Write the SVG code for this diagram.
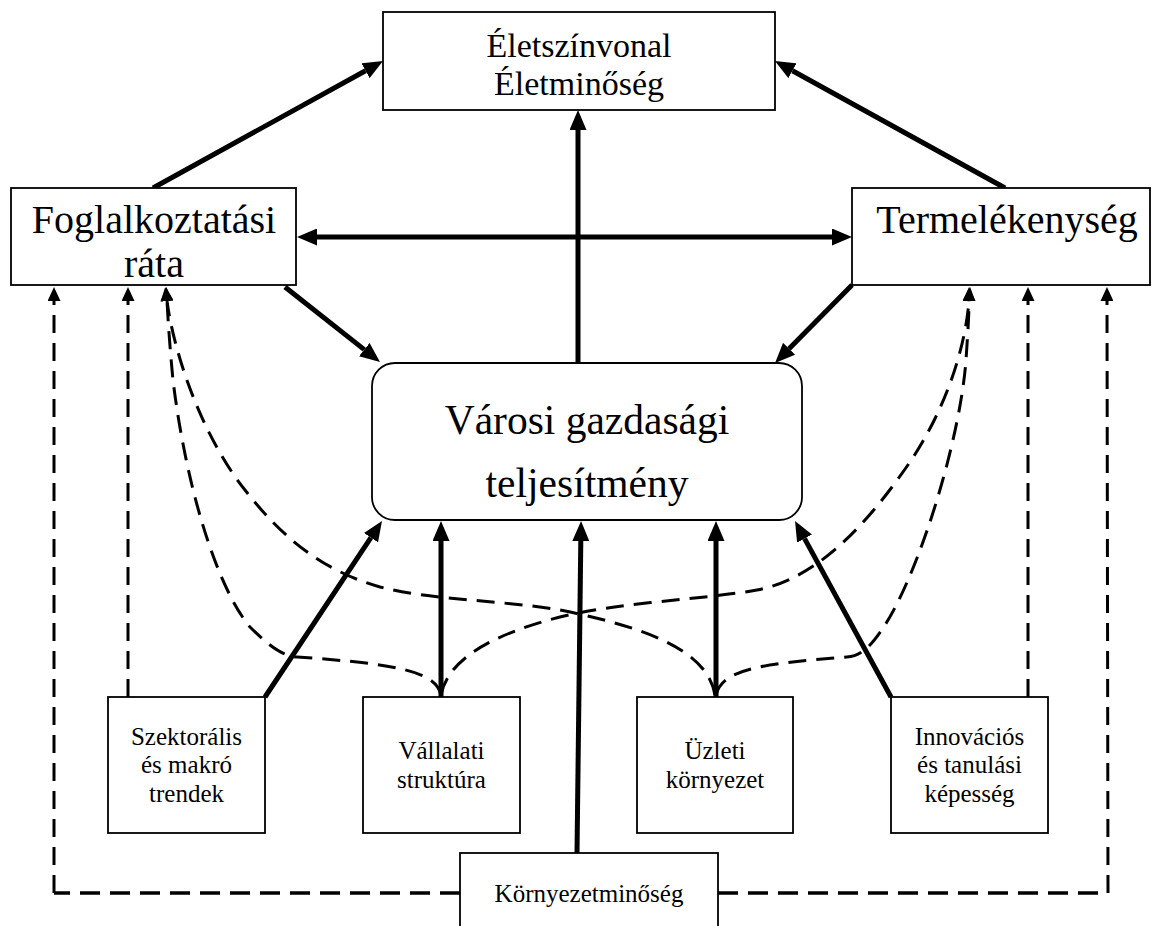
<svg xmlns="http://www.w3.org/2000/svg" width="1160" height="926" viewBox="0 0 1160 926">
<style>
.box{fill:#fff;stroke:#000;stroke-width:1.8}
.t{font-family:"Liberation Serif","Times New Roman",serif;fill:#000;text-anchor:middle}
.thick{fill:none;stroke:#000;stroke-width:5}
.dash{fill:none;stroke:#000;stroke-width:3;stroke-dasharray:18 10}
.dashb{fill:none;stroke:#000;stroke-width:3.5;stroke-dasharray:20 10}
</style>
<defs>
<marker id="ah" markerUnits="userSpaceOnUse" markerWidth="20" markerHeight="17" viewBox="0 0 20 17" refX="0" refY="8.5" orient="auto"><path d="M0,0 L20,8.5 L0,17 z" fill="#000"/></marker>
<marker id="ahs" markerUnits="userSpaceOnUse" markerWidth="20" markerHeight="17" viewBox="0 0 20 17" refX="0" refY="8.5" orient="auto-start-reverse"><path d="M0,0 L20,8.5 L0,17 z" fill="#000"/></marker>
<marker id="ad" markerUnits="userSpaceOnUse" markerWidth="14" markerHeight="13" viewBox="0 0 14 13" refX="0" refY="6.5" orient="auto"><path d="M0,0 L14,6.5 L0,13 z" fill="#000"/></marker>
</defs>
<rect width="1160" height="926" fill="#fff"/>

<g id="connectors">
<path class="thick" d="M153,188 L365.5,70.7" marker-end="url(#ah)"/>
<path class="thick" d="M1005,188 L792.5,70.7" marker-end="url(#ah)"/>
<path class="thick" d="M578,363 L578,130" marker-end="url(#ah)"/>
<path class="thick" d="M317,237 L832,237" marker-start="url(#ahs)" marker-end="url(#ah)"/>
<path class="thick" d="M285,287 L364.3,349.6" marker-end="url(#ah)"/>
<path class="thick" d="M852,285 L789.1,348.8" marker-end="url(#ah)"/>
<path class="thick" d="M265,697 L370.9,537.7" marker-end="url(#ah)"/>
<path class="thick" d="M441,697 L441,541" marker-end="url(#ah)"/>
<path class="thick" d="M577,853 L580.8,541" marker-end="url(#ah)"/>
<path class="thick" d="M716,697 L716,541" marker-end="url(#ah)"/>
<path class="thick" d="M891,697 L804.6,538.6" marker-end="url(#ah)"/>
<path class="dash" d="M128,697 L128,301" marker-end="url(#ad)"/>
<path class="dash" d="M1028,697 L1028,301" marker-end="url(#ad)"/>
<path class="dashb" d="M460,893 L54,893"/>
<path class="dash" d="M54,893 L54,301" marker-end="url(#ad)"/>
<path class="dashb" d="M718,893 L1108,893"/>
<path class="dash" d="M1108,893 L1107,301" marker-end="url(#ad)"/>
<path class="dash" d="M441,695 C436,672 400,664 297,657 C282,656 268,645 250,627 C215,585 185,480 173,380 C170,350 168,320 167,301" marker-end="url(#ad)"/>
<path class="dash" d="M715,695 C708,655 660,630 560,610 C500,600 430,600 380,587 C320,570 280,535 245,490 C205,440 175,360 167,301" marker-end="url(#ad)"/>
<path class="dash" d="M441,695 C448,660 490,635 560,617 C620,602 700,600 757,590 C820,578 870,520 910,462 C945,410 965,350 969,301" marker-end="url(#ad)"/>
<path class="dash" d="M716,695 C722,672 750,664 847,657 C862,656 872,645 885,625 C920,570 960,440 966,360 C968,330 969,315 969,301" marker-end="url(#ad)"/>
</g>

<g id="n-eletszinvonal">
<rect class="box" x="383" y="12" width="392" height="98"/>
<text class="t" x="579" y="57" font-size="34">Életszínvonal</text>
<text class="t" x="579" y="95" font-size="34">Életminőség</text>
</g>

<g id="n-foglalkoztatasi">
<rect class="box" x="11" y="188" width="285" height="97"/>
<text class="t" x="154" y="233" font-size="40">Foglalkoztatási</text>
<text class="t" x="154" y="277" font-size="40">ráta</text>
</g>

<g id="n-termelekenyseg">
<rect class="box" x="852" y="188" width="298" height="97"/>
<text class="t" x="1007" y="233" font-size="40">Termelékenység</text>
</g>

<g id="n-varosi">
<rect class="box" x="372" y="363" width="430" height="157" rx="23" ry="23"/>
<text class="t" x="587" y="434" font-size="41.5">Városi gazdasági</text>
<text class="t" x="587" y="497" font-size="41.5">teljesítmény</text>
</g>

<g id="n-szektoralis">
<rect class="box" x="108" y="697" width="157" height="136"/>
<text class="t" x="186.5" y="745" font-size="25">Szektorális</text>
<text class="t" x="186.5" y="773" font-size="25">és makró</text>
<text class="t" x="186.5" y="802" font-size="25">trendek</text>
</g>

<g id="n-vallalati">
<rect class="box" x="363" y="697" width="157" height="136"/>
<text class="t" x="441.5" y="759" font-size="25">Vállalati</text>
<text class="t" x="441.5" y="788" font-size="25">struktúra</text>
</g>

<g id="n-uzleti">
<rect class="box" x="637" y="697" width="156" height="136"/>
<text class="t" x="715" y="759" font-size="25">Üzleti</text>
<text class="t" x="715" y="788" font-size="25">környezet</text>
</g>

<g id="n-innovacios">
<rect class="box" x="891" y="697" width="157" height="136"/>
<text class="t" x="969.5" y="745" font-size="25">Innovációs</text>
<text class="t" x="969.5" y="773" font-size="25">és tanulási</text>
<text class="t" x="969.5" y="802" font-size="25">képesség</text>
</g>

<g id="n-kornyezet">
<rect class="box" x="460" y="853" width="258" height="100"/>
<text class="t" x="589" y="902" font-size="25">Környezetminőség</text>
</g>
</svg>
